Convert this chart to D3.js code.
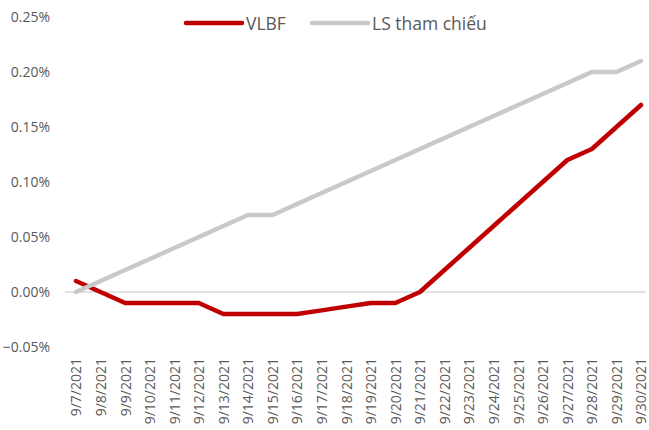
<!DOCTYPE html>
<html>
<head>
<meta charset="utf-8">
<script src="https://cdn.jsdelivr.net/npm/d3@7"></script>
<style>
html,body{margin:0;padding:0;background:#fff;}
svg{display:block;}
</style>
</head>
<body>
<svg id="chart" width="649" height="430"></svg>
<script>
const dates = ["9/7/2021","9/8/2021","9/9/2021","9/10/2021","9/11/2021","9/12/2021","9/13/2021","9/14/2021","9/15/2021","9/16/2021","9/17/2021","9/18/2021","9/19/2021","9/20/2021","9/21/2021","9/22/2021","9/23/2021","9/24/2021","9/25/2021","9/26/2021","9/27/2021","9/28/2021","9/29/2021","9/30/2021"];
const vlbf = [0.01,0.00,-0.01,-0.01,-0.01,-0.01,-0.02,-0.02,-0.02,-0.02,-0.0167,-0.0133,-0.01,-0.01,0.00,0.02,0.04,0.06,0.08,0.10,0.12,0.13,0.15,0.17];
const lsThamChieu = [0.00,0.01,0.02,0.03,0.04,0.05,0.06,0.07,0.07,0.08,0.09,0.10,0.11,0.12,0.13,0.14,0.15,0.16,0.17,0.18,0.19,0.20,0.20,0.21];
const yTicks = [-0.05,0.00,0.05,0.10,0.15,0.20,0.25];
const seriesNames = ["VLBF","LS tham chiếu"];
const seriesColors = ["#c00000","#c9c9c9"];

const svg = d3.select("#chart");
const font = "'Open Sans', sans-serif";
const textColor = "#595959";

const x = d3.scalePoint().domain(dates).range([76, 641]);
const y = d3.scaleLinear().domain([-0.05, 0.25]).range([347, 17]);

// y axis labels
const yAxis = d3.axisLeft(y).tickValues(yTicks).tickFormat(d => d3.format(".2f")(d) + "%").tickSize(0).tickPadding(0);
const gy = svg.append("g").attr("transform", "translate(50,0)").call(yAxis);
gy.select(".domain").remove();
gy.selectAll("text").attr("font-family", font).attr("font-size", 14).attr("fill", textColor);

// zero line
svg.append("line")
  .attr("x1", 65).attr("x2", 646)
  .attr("y1", y(0)).attr("y2", y(0))
  .attr("stroke", "#d9d9d9").attr("stroke-width", 1.5);

// x axis labels
const xAxis = d3.axisBottom(x).tickSize(0).tickPadding(0);
const gx = svg.append("g").attr("transform", "translate(0,358)").call(xAxis);
gx.select(".domain").remove();
gx.selectAll("text")
  .attr("font-family", font).attr("font-size", 14).attr("fill", textColor)
  .attr("text-anchor", "end")
  .attr("transform", "rotate(-90)")
  .attr("x", 0).attr("y", 0).attr("dy", "0.35em");

// lines
const allSeries = [vlbf, lsThamChieu];
const line = d3.line().x((d, i) => x(dates[i])).y(d => y(d));
allSeries.forEach((s, k) => {
  svg.append("path")
    .datum(s)
    .attr("d", line)
    .attr("fill", "none")
    .attr("stroke", seriesColors[k])
    .attr("stroke-width", 4.5)
    .attr("stroke-linecap", "round")
    .attr("stroke-linejoin", "round");
});

// legend
const legendX = [186, 312];
seriesNames.forEach((name, k) => {
  svg.append("line")
    .attr("x1", legendX[k]).attr("x2", legendX[k] + 56)
    .attr("y1", 23).attr("y2", 23)
    .attr("stroke", seriesColors[k]).attr("stroke-width", 4.5)
    .attr("stroke-linecap", "round");
  svg.append("text")
    .attr("x", legendX[k] + 60).attr("y", 30)
    .attr("font-family", font).attr("font-size", 17.5)
    .attr("fill", textColor)
    .text(name);
});
</script>
</body>
</html>
